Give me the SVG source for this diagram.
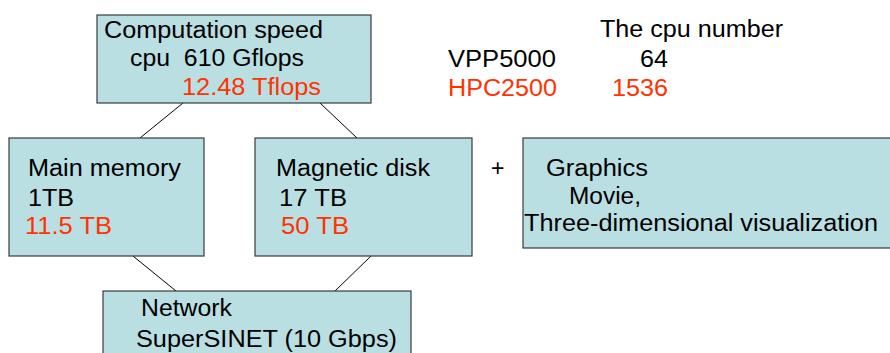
<svg xmlns="http://www.w3.org/2000/svg" width="890" height="353" viewBox="0 0 890 353">
<style>
.box{fill:#B9DFE2;stroke:#3a3a3a;stroke-width:1.2}
.t{font-family:"Liberation Sans",Arial,sans-serif;font-size:23px;fill:#000}
.r{fill:#FF3300}
.c{stroke:#000;stroke-width:1;fill:none}
</style>
<rect width="890" height="353" fill="#fff"/>
<g id="connectors">
<line class="c" x1="183" y1="103" x2="140" y2="138"/>
<line class="c" x1="320" y1="103" x2="357" y2="138"/>
<line class="c" x1="133" y1="256" x2="176" y2="291"/>
<line class="c" x1="371" y1="256" x2="335" y2="291"/>
</g>
<g id="speed">
<rect class="box" x="97" y="15" width="274" height="88"/>
<text class="t" x="104" y="38" textLength="219" lengthAdjust="spacingAndGlyphs">Computation speed</text>
<text class="t" x="130" y="66" textLength="174" lengthAdjust="spacingAndGlyphs" xml:space="preserve">cpu  610 Gflops</text>
<text class="t r" x="182" y="95" textLength="139" lengthAdjust="spacingAndGlyphs">12.48 Tflops</text>
</g>
<g id="cpu-table">
<text class="t" x="600" y="37" textLength="183" lengthAdjust="spacingAndGlyphs">The cpu number</text>
<text class="t" x="448" y="67" textLength="108" lengthAdjust="spacingAndGlyphs">VPP5000</text>
<text class="t" x="640" y="67" textLength="28" lengthAdjust="spacingAndGlyphs">64</text>
<text class="t r" x="448" y="96" textLength="109" lengthAdjust="spacingAndGlyphs">HPC2500</text>
<text class="t r" x="612" y="96" textLength="56" lengthAdjust="spacingAndGlyphs">1536</text>
</g>
<g id="memory">
<rect class="box" x="9" y="138" width="195" height="118"/>
<text class="t" x="28" y="176" textLength="153" lengthAdjust="spacingAndGlyphs">Main memory</text>
<text class="t" x="28" y="206" textLength="46" lengthAdjust="spacingAndGlyphs">1TB</text>
<text class="t r" x="25" y="234" textLength="87" lengthAdjust="spacingAndGlyphs">11.5 TB</text>
</g>
<g id="disk">
<rect class="box" x="255" y="138" width="217" height="118"/>
<text class="t" x="276" y="176" textLength="154" lengthAdjust="spacingAndGlyphs">Magnetic disk</text>
<text class="t" x="279" y="206" textLength="68" lengthAdjust="spacingAndGlyphs">17 TB</text>
<text class="t r" x="281" y="234" textLength="68" lengthAdjust="spacingAndGlyphs">50 TB</text>
</g>
<g id="plus">
<text class="t" x="491" y="176">+</text>
</g>
<g id="graphics">
<rect class="box" x="523" y="138" width="370" height="110"/>
<text class="t" x="546" y="176" textLength="102" lengthAdjust="spacingAndGlyphs">Graphics</text>
<text class="t" x="569" y="204" textLength="72" lengthAdjust="spacingAndGlyphs">Movie,</text>
<text class="t" x="524" y="231" textLength="354" lengthAdjust="spacingAndGlyphs">Three-dimensional visualization</text>
</g>
<g id="network">
<rect class="box" x="103" y="291" width="308" height="70"/>
<text class="t" x="141" y="316" textLength="91" lengthAdjust="spacingAndGlyphs">Network</text>
<text class="t" x="136" y="347" textLength="261" lengthAdjust="spacingAndGlyphs">SuperSINET (10 Gbps)</text>
</g>
</svg>
